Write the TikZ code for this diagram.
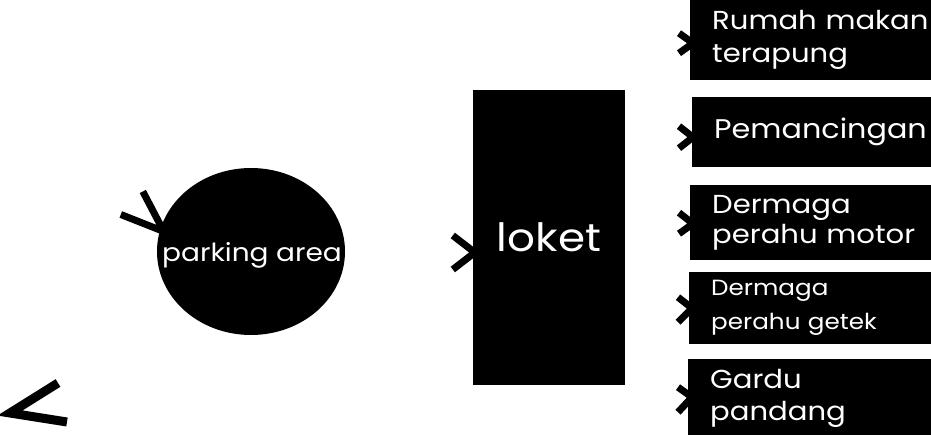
\documentclass[tikz,border=0pt]{standalone}
\usepackage{fontspec}
\setmainfont[FakeStretch=1.12]{Poppins}
\usetikzlibrary{shapes.geometric,calc}
\begin{document}
\begin{tikzpicture}[x=1pt,y=-1pt,
  box/.style={fill=black,text=white,anchor=north west,inner xsep=22pt,inner ysep=0pt,
    align=left,minimum width=260pt,text width=225pt},
  chev/.style={draw=black,line width=7pt,line join=miter,line cap=butt}]
\useasboundingbox[fill=white] (0,0) rectangle (931,435);

% parking area
\node[ellipse,fill=black,minimum width=188pt,minimum height=167pt,inner sep=0pt] (park) at (251,251.5) {};
\node[text=white,inner sep=0pt,font=\fontsize{25}{30}\selectfont] (parklabel) at (252,255) {parking area};

% loket
\node[fill=black,text=white,minimum width=152pt,minimum height=295pt,inner sep=0pt,
  font=\fontsize{39}{46}\selectfont] (loket) at (549,237.5) {loket};

% right boxes
\node[box,font=\fontsize{26}{33}\selectfont,minimum height=80pt] (b1) at (690,0) {Rumah makan\\terapung};
\node[box,font=\fontsize{27}{33}\selectfont,minimum height=70pt] (b2) at (692,97) {Pemancingan};
\node[box,font=\fontsize{26}{30}\selectfont,minimum height=75pt] (b3) at (690,185) {Dermaga\\perahu motor};
\node[box,font=\fontsize{22}{34}\selectfont,minimum height=72pt] (b4) at (689,272) {Dermaga\\perahu getek};
\node[box,font=\fontsize{26}{32}\selectfont,minimum height=78pt] (b5) at (688,359) {Gardu\\pandang};

% chevrons
\draw[chev] ($(park.west)+(-14,-60)$) -- ($(park.west)+(7,-20)$) -- ($(park.west)+(-36,-37)$);
\draw[chev] ($(loket.west)+(-20,-2)$) -- ($(loket.west)+(2,15)$) -- ($(loket.west)+(-20,32)$);
\draw[chev] ($(b1.west)+(-11,-7)$) -- ($(b1.west)+(3,3)$) -- ($(b1.west)+(-11,13)$);
\draw[chev] ($(b2.west)+(-13,-6)$) -- ($(b2.west)+(1,5)$) -- ($(b2.west)+(-13,16)$);
\draw[chev] ($(b3.west)+(-11,-10)$) -- ($(b3.west)+(3,1)$) -- ($(b3.west)+(-11,11)$);
\draw[chev] ($(b4.west)+(-11,-11)$) -- ($(b4.west)+(3,0)$) -- ($(b4.west)+(-11,14)$);
\draw[chev] ($(b5.west)+(-10,-11)$) -- ($(b5.west)+(4,-1)$) -- ($(b5.west)+(-10,14)$);
\coordinate (bl) at (10,413);
\draw[chev,line width=9pt] ($(bl)+(48,-30)$) -- (bl) -- ($(bl)+(57,9)$);
\end{tikzpicture}
\end{document}
